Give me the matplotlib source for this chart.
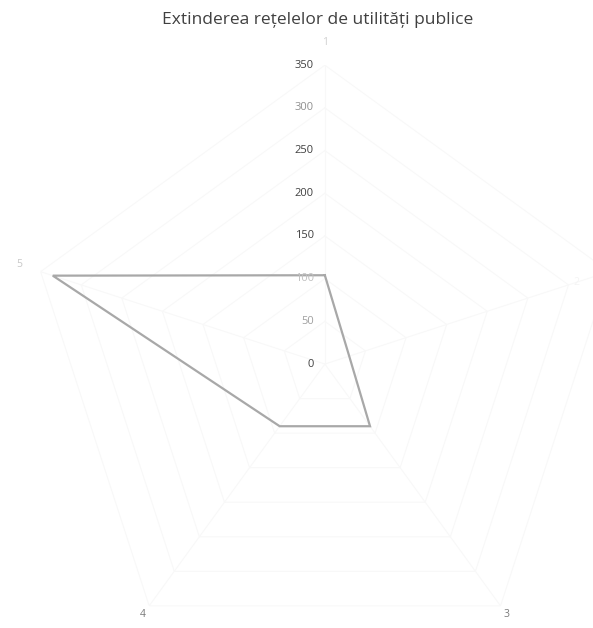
import matplotlib

matplotlib.use("Agg")
import matplotlib.pyplot as plt
import numpy as np

# chart data
categories = ["1", "2", "3", "4", "5"]
values = [104, 30, 90, 90, 335]
r_ticks = [0, 50, 100, 150, 200, 250, 300, 350]
title = "Extinderea rețelelor de utilități publice"

label_colors = ["#d0d0d0", "#f4f4f4", "#7a7a7a", "#7a7a7a", "#c8c8c8"]
tick_colors = ["#404040", "#a0a0a0", "#c0c0c0", "#404040", "#404040", "#404040", "#909090", "#404040"]

plt.rcParams["font.family"] = ["Open Sans", "DejaVu Sans"]

fig = plt.figure(figsize=(5.93, 6.28), dpi=100)
ax = fig.add_axes([0.0438, -0.0557, 1.008, 0.952], projection="polar")

n = len(categories)
# category 1 on top, going clockwise like Excel radar
angles = np.pi / 2 - np.arange(n) * 2 * np.pi / n
closed = np.append(angles, angles[0])

# very faint pentagon grid (almost washed out in the scan)
for t in r_ticks[1:]:
    ax.plot(closed, [t] * (n + 1), color="#f8f8f8", lw=0.8, zorder=1)
for a in angles:
    ax.plot([a, a], [0, r_ticks[-1]], color="#f8f8f8", lw=0.8, zorder=1)

ax.plot(closed, values + values[:1], color="#a8a8a8", lw=1.6, zorder=3,
        solid_joinstyle="miter")

ax.set_ylim(0, r_ticks[-1])
ax.set_xticks([])
ax.set_yticks([])
ax.grid(False)
ax.spines["polar"].set_visible(False)
ax.set_facecolor("none")

# radial tick labels along the vertical axis
for t, c in zip(r_ticks, tick_colors):
    ax.annotate(str(t), xy=(np.pi / 2, t), xytext=(-8, 0),
                textcoords="offset points", ha="right", va="center",
                fontsize=8, color=c)

# category labels
label_r = [376, 310, 362, 362, 376]
for a, lab, r, c in zip(angles, categories, label_r, label_colors):
    ax.text(a, r, lab, ha="center", va="center", fontsize=7.5, color=c)

fig.text(0.535, 0.968, title, ha="center", va="center", fontsize=12.5,
         color="#404040")

fig.savefig("out.png", dpi=100)
